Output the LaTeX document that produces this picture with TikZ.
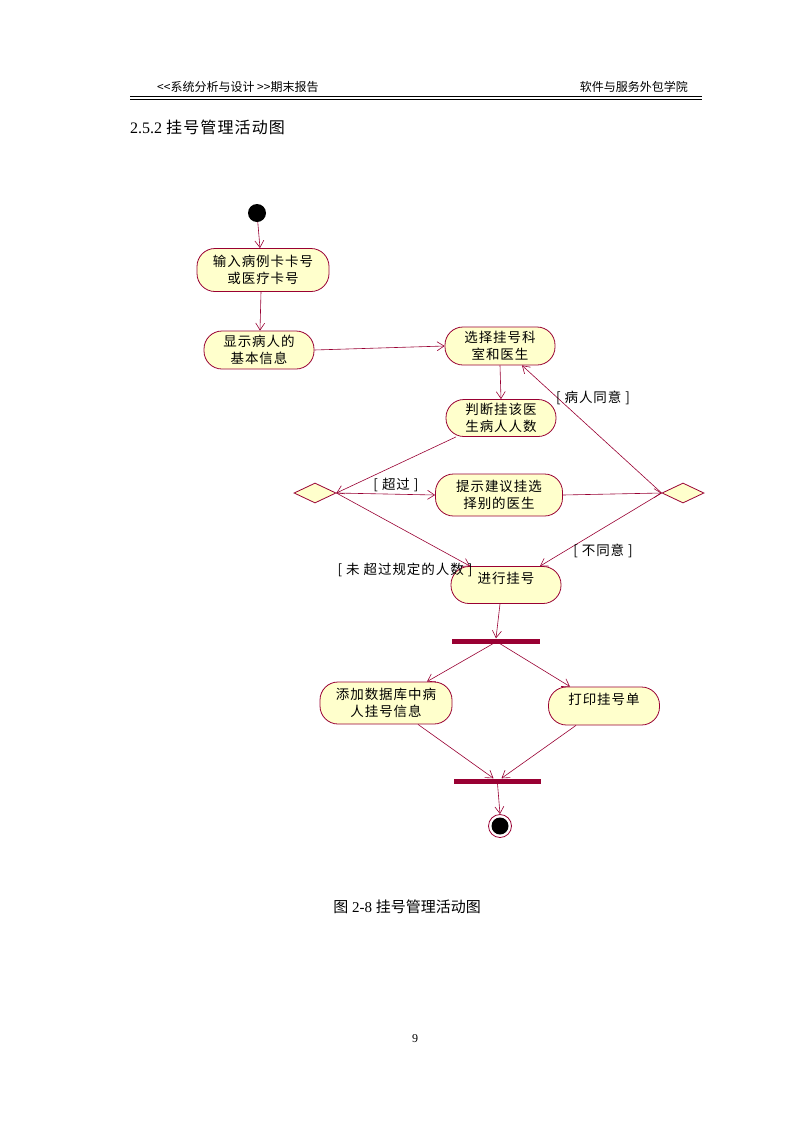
\documentclass[tikz,border=0pt]{standalone}
\usepackage{fontspec}
\setmainfont{Liberation Serif}
\newfontfamily\cjk{Noto Sans CJK SC}
\newfontfamily\cjkw{Noto Sans CJK SC}[LetterSpace=7]
\usetikzlibrary{arrows.meta,shapes.geometric,calc}
\definecolor{uml}{HTML}{990033}
\definecolor{actfill}{HTML}{FFFFCC}
\begin{document}
\begin{tikzpicture}[x=1pt,y=-1pt,
  act/.style={draw=uml, fill=actfill, line width=0.8pt, rounded corners=18pt,
    align=center, inner sep=0pt, font=\cjkw\fontsize{13.5}{17}\selectfont},
  arr/.style={draw=uml, line width=0.6pt, -{Straight Barb[length=7pt,width=9pt]}},
  bar/.style={fill=uml, inner sep=0pt, minimum height=5pt},
  choice/.style={diamond, draw=uml, fill=actfill, line width=0.8pt, inner sep=0pt,
    minimum width=42pt, minimum height=20pt},
  guard/.style={font=\cjkw\fontsize{13.5}{15}\selectfont, inner sep=0pt},
]
\fill[white] (0,0) rectangle (794,1122);
\useasboundingbox (0,0) rectangle (794,1122);

% header
\node[anchor=west, font=\cjk\fontsize{12}{14}\selectfont, inner sep=0] (hl) at (157,87) {<<系统分析与设计 >>期末报告};
\node[anchor=east, font=\cjk\fontsize{12}{14}\selectfont, inner sep=0] (hr) at (688,87) {软件与服务外包学院};
\draw[line width=1pt] (130,96) -- (702,96);
\draw[line width=0.6pt] (130,99.5) -- (702,99.5);
\node[anchor=west, inner sep=0, font=\fontsize{16}{18}\selectfont] (title) at (130,127) {2.5.2 {\cjkw 挂号管理活动图}};

% nodes
\node[circle, fill=black, minimum size=18pt, inner sep=0] (start) at (257,213) {};
\node[act, minimum width=132pt, minimum height=43pt] (A) at (263,270) {输入病例卡卡号\\或医疗卡号};
\node[act, minimum width=110pt, minimum height=38pt] (B) at (259,350) {显示病人的\\基本信息};
\node[act, minimum width=110pt, minimum height=38pt] (C) at (500,346) {选择挂号科\\室和医生};
\node[act, minimum width=110pt, minimum height=37pt] (D) at (501,418) {判断挂该医\\生病人人数};
\node[choice] (dl) at (315,493) {};
\node[act, minimum width=127pt, minimum height=42pt] (E) at (499,495) {提示建议挂选\\择别的医生};
\node[choice] (dr) at (683,493) {};
\node[act, minimum width=110pt, minimum height=37pt, text depth=14pt] (F) at (506,585) {进行挂号};
\node[bar, minimum width=88pt] (fork) at (496,641) {};
\node[act, minimum width=132pt, minimum height=42pt] (G) at (386,703) {添加数据库中病\\人挂号信息};
\node[act, minimum width=111pt, minimum height=38pt, text depth=15pt] (H) at (604,706) {打印挂号单};
\node[bar, minimum width=87pt] (join) at (497.5,781) {};
\node[circle, draw=uml, fill=white, line width=0.8pt, minimum size=23pt, inner sep=0,
  path picture={\fill[black] (path picture bounding box.center) circle (8.5pt);}] (end) at (500,826) {};

% connectors
\draw[arr] (start) -- ($(A.north)+(-3,0)$);
\draw[arr] ($(A.south)+(-2,0)$) -- ($(B.north)+(1,0)$);
\draw[arr] (B.east) -- (C.west);
\draw[arr] (C.south) -- (D.north);
\draw[arr] ($(D.south)+(-45,0)$) -- (dl.east);
\draw[arr] (dl.east) -- (E.west);
\draw[arr] (E.east) -- (dr.west);
\draw[arr] (dr.west) -- ($(C.south)+(22,0)$);
\draw[arr] (dr.west) -- ($(F.north)+(34,0)$);
\draw[arr] (dl.east) -- ($(F.north)+(-36,0)$);
\draw[arr] ($(F.south)+(-6,0)$) -- (fork.north);
\draw[arr] ($(fork.south)+(-3,0)$) -- ($(G.north)+(41,0)$);
\draw[arr] ($(fork.south)+(4,0)$) -- ($(H.north)+(-34,0)$);
\draw[arr] ($(G.south)+(32,0)$) -- ($(join.north)+(-4,0)$);
\draw[arr] ($(H.south)+(-28,0)$) -- ($(join.north)+(4,0)$);
\draw[arr] (join.south) -- (end.north);

% guards
\node[guard] (g1) at (396,485) {[ 超过 ]};
\node[guard] (g2) at (593,398) {[ 病人同意 ]};
\node[guard] (g3) at (603,551) {[ 不同意 ]};
\node[guard] (g4) at (405,570) {[ 未 超过规定的人数 ]};

% caption and page number
\node[inner sep=0, font=\fontsize{15}{17}\selectfont] (cap) at (407,907) {{\cjk 图} 2-8 {\cjk 挂号管理活动图}};
\node[inner sep=0, font=\fontsize{12}{14}\selectfont] (pg) at (415,1039) {9};
\end{tikzpicture}
\end{document}
